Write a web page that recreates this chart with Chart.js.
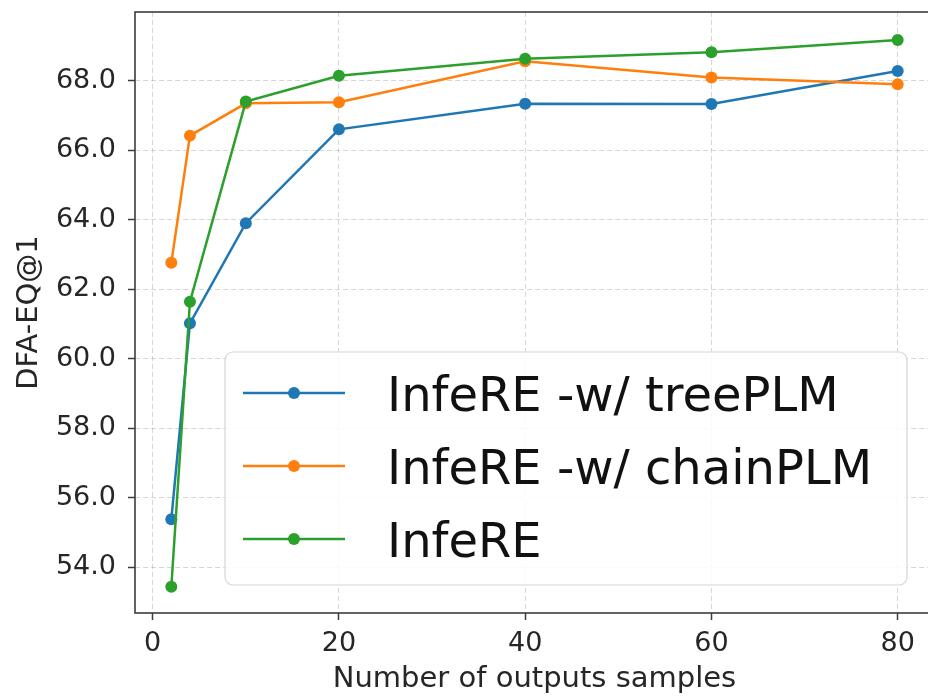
<!DOCTYPE html>
<html>
<head>
<meta charset="utf-8">
<script src="https://cdn.jsdelivr.net/npm/chart.js@4.4.0/dist/chart.umd.min.js"></script>
<style>
  html, body { margin: 0; padding: 0; overflow: hidden; background: #fff; }
  canvas { display: block; }
</style>
</head>
<body>
<canvas id="chart" width="942" height="697"></canvas>
<script>
// x values (number of sampled outputs)
const samples = [2, 4, 10, 20, 40, 60, 80];

// DFA-EQ@1 per variant
const treePLM  = [55.38, 61.02, 63.90, 66.60, 67.34, 67.33, 68.28];
const chainPLM = [62.76, 66.42, 67.35, 67.38, 68.56, 68.09, 67.90];
const infere   = [53.44, 61.64, 67.40, 68.14, 68.63, 68.82, 69.17];

const seriesNames  = ["InfeRE -w/ treePLM", "InfeRE -w/ chainPLM", "InfeRE"];
const seriesColors = ["#1f77b4", "#ff7f0e", "#2ca02c"];

const xTicks = [0, 20, 40, 60, 80];
const yTicks = [54, 56, 58, 60, 62, 64, 66, 68];

const FONT = "'DejaVu Sans', 'Liberation Sans', sans-serif";
const TEXT = "#262626";

function toPoints(vals) {
  return samples.map((x, i) => ({ x: x, y: vals[i] }));
}

/* frame + legend drawn inside the plot, like matplotlib */
const frameAndLegend = {
  id: "frameAndLegend",
  afterDatasetsDraw(chart) {
    const ctx = chart.ctx;
    const a = chart.chartArea;
    ctx.save();

    // spines
    ctx.strokeStyle = "#3c3c3c";
    ctx.lineWidth = 1.6;
    ctx.strokeRect(a.left, a.top, a.right - a.left, a.bottom - a.top);

    // legend box
    const bx = 225, by = 352, bw = 682, bh = 233;
    ctx.beginPath();
    ctx.roundRect(bx, by, bw, bh, 8);
    ctx.fillStyle = "rgba(255,255,255,0.85)";
    ctx.fill();
    ctx.strokeStyle = "#d6d6d6";
    ctx.lineWidth = 1.2;
    ctx.stroke();

    ctx.font = "48px " + FONT;
    ctx.textBaseline = "alphabetic";
    ctx.textAlign = "left";
    chart.data.datasets.forEach((ds, i) => {
      const cy = 393 + i * 73;
      ctx.strokeStyle = ds.borderColor;
      ctx.lineWidth = 2.5;
      ctx.beginPath();
      ctx.moveTo(243, cy);
      ctx.lineTo(345, cy);
      ctx.stroke();
      ctx.fillStyle = ds.borderColor;
      ctx.beginPath();
      ctx.arc(294, cy, 6, 0, Math.PI * 2);
      ctx.fill();
      ctx.fillStyle = "#111";
      ctx.fillText(ds.label, 387, cy + 17.5);
    });
    ctx.restore();
  }
};

const lineData = [treePLM, chainPLM, infere];

const chart = new Chart(document.getElementById("chart"), {
  type: "line",
  data: {
    datasets: lineData.map((vals, i) => ({
      label: seriesNames[i],
      data: toPoints(vals),
      borderColor: seriesColors[i],
      backgroundColor: seriesColors[i],
      pointBackgroundColor: seriesColors[i],
      pointBorderWidth: 0,
      pointRadius: 6,
      borderWidth: 2.5,
      tension: 0,
      fill: false,
      order: 3 - i
    }))
  },
  options: {
    responsive: false,
    animation: false,
    devicePixelRatio: 1,
    layout: { padding: { left: 0, top: 12, right: 8, bottom: 0 } },
    plugins: {
      legend: { display: false },
      tooltip: { enabled: false }
    },
    scales: {
      x: {
        type: "linear",
        min: -1.9,
        max: 83.9,
        afterBuildTicks: s => { s.ticks = xTicks.map(v => ({ value: v })); },
        afterFit: s => { s.height = 84; s.paddingLeft = 0; s.paddingRight = 0; },
        ticks: {
          autoSkip: false,
          maxRotation: 0,
          padding: 8,
          color: TEXT,
          font: { family: FONT, size: 27 },
          callback: v => String(v)
        },
        grid: {
          color: "rgba(0,0,0,0.16)",
          lineWidth: 1,
          drawTicks: true,
          tickLength: 7,
          tickColor: "#3c3c3c",
          tickWidth: 1.5
        },
        border: { display: false, dash: [5, 3] },
        title: {
          display: true,
          text: "Number of outputs samples",
          color: TEXT,
          font: { family: FONT, size: 29 },
          padding: { top: 0, bottom: 0 }
        }
      },
      y: {
        min: 52.685,
        max: 69.977,
        afterBuildTicks: s => { s.ticks = yTicks.map(v => ({ value: v })); },
        afterFit: s => { s.width = 135; s.paddingTop = 0; s.paddingBottom = 0; },
        ticks: {
          autoSkip: false,
          padding: 12,
          color: TEXT,
          font: { family: FONT, size: 27 },
          callback: v => Number(v).toFixed(1)
        },
        grid: {
          color: "rgba(0,0,0,0.16)",
          lineWidth: 1,
          drawTicks: true,
          tickLength: 7,
          tickColor: "#3c3c3c",
          tickWidth: 1.5
        },
        border: { display: false, dash: [5, 3] },
        title: {
          display: true,
          text: "DFA-EQ@1",
          color: TEXT,
          font: { family: FONT, size: 29 },
          padding: { top: 12, bottom: 0 }
        }
      }
    }
  },
  plugins: [frameAndLegend]
});
</script>
</body>
</html>
